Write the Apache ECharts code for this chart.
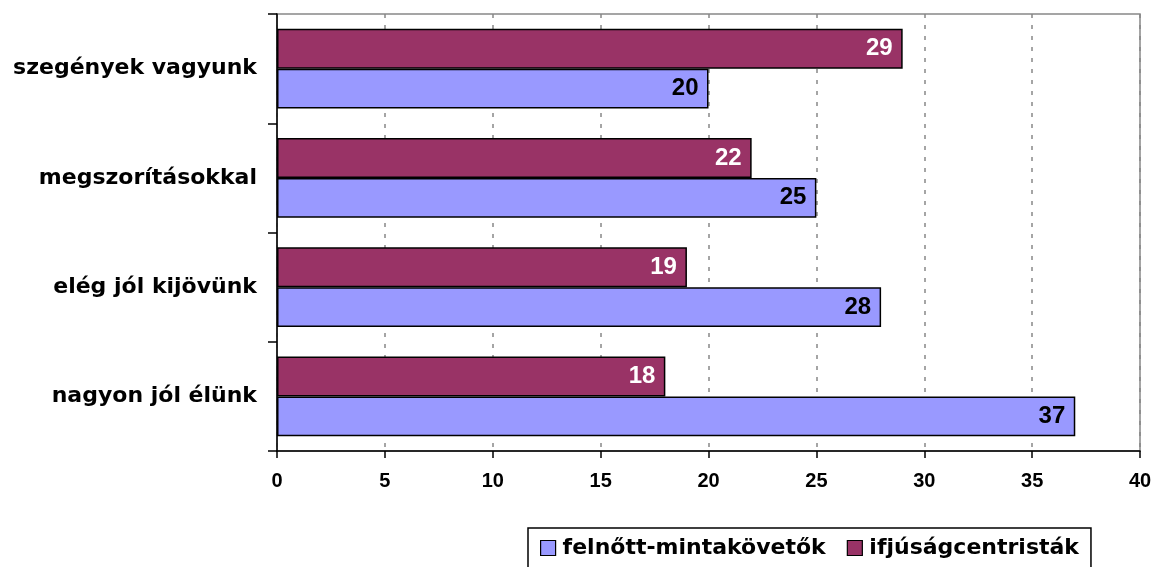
<!DOCTYPE html>
<html><head><meta charset="utf-8">
<script src="https://cdn.jsdelivr.net/npm/echarts@6/dist/echarts.min.js"></script>
<style>html,body{margin:0;padding:0;background:#fff}#c{width:1155px;height:567px}</style>
</head><body><div id="c"></div>
<script>
const categories = ['nagyon jól élünk', 'elég jól kijövünk', 'megszorításokkal', 'szegények vagyunk'];
const felnott = [37, 28, 25, 20];
const ifjusag = [18, 19, 22, 29];
const seriesNames = ['felnőtt-mintakövetők', 'ifjúságcentristák'];
const xTicks = [0, 5, 10, 15, 20, 25, 30, 35, 40];

const chart = echarts.init(document.getElementById('c'));
const numFont = 'Liberation Sans, Arial, sans-serif';
const txtFont = 'DejaVu Sans, sans-serif';
chart.setOption({
  animation: false,
  grid: { left: 277, top: 14, width: 863, height: 437, show: true, borderColor: '#888', borderWidth: 1.5 },
  legend: {
    top: 528, left: 528,
    icon: 'rect',
    itemWidth: 15, itemHeight: 15, itemGap: 21,
    borderColor: '#000', borderWidth: 1.5, padding: [9, 12, 12, 12],
    textStyle: { fontFamily: txtFont, fontWeight: 'bold', fontSize: 22, color: '#000', padding: [0, 0, 0, 2] },
    data: seriesNames.map(n => ({ name: n, itemStyle: { borderColor: '#000', borderWidth: 1.2 } }))
  },
  xAxis: {
    type: 'value', min: xTicks[0], max: xTicks[xTicks.length - 1], interval: 5,
    axisLine: { show: true, lineStyle: { color: '#000', width: 1.5 } },
    axisTick: { show: true, length: 7, lineStyle: { color: '#000', width: 1.5 } },
    axisLabel: { fontFamily: numFont, fontWeight: 'bold', fontSize: 20, color: '#000', margin: 20 },
    splitLine: { show: true, lineStyle: { color: '#888', type: [4, 7], width: 1.5 } }
  },
  yAxis: {
    type: 'category', data: categories,
    axisLine: { show: true, lineStyle: { color: '#000', width: 1.5 } },
    axisTick: { show: true, length: 9, lineStyle: { color: '#000', width: 1.5 } },
    axisLabel: { fontFamily: txtFont, fontWeight: 'bold', fontSize: 22, color: '#000', margin: 20 },
    splitLine: { show: false }
  },
  series: [
    {
      name: seriesNames[1], type: 'bar', data: ifjusag,
      barGap: '0%', barCategoryGap: '27%',
      itemStyle: { color: '#993366', borderColor: '#000', borderWidth: 1.5 },
      label: { show: true, position: 'insideRight', distance: 10, fontFamily: numFont, fontWeight: 'bold', fontSize: 24, color: '#fff' }
    },
    {
      name: seriesNames[0], type: 'bar', data: felnott,
      barGap: '0%', barCategoryGap: '27%',
      itemStyle: { color: '#9999FF', borderColor: '#000', borderWidth: 1.5 },
      label: { show: true, position: 'insideRight', distance: 10, fontFamily: numFont, fontWeight: 'bold', fontSize: 24, color: '#000' }
    }
  ]
});
</script></body></html>
